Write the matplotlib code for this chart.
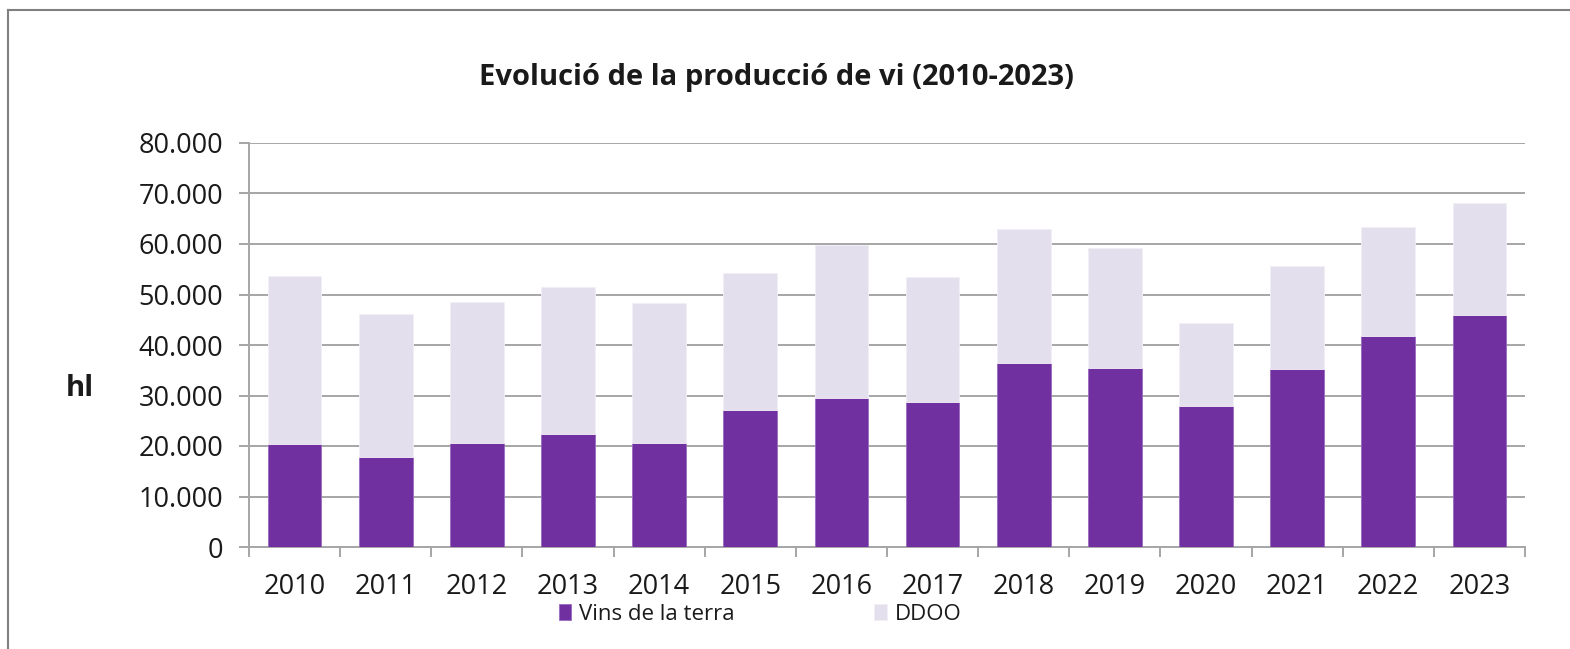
import matplotlib
matplotlib.use("Agg")
import matplotlib.pyplot as plt
from matplotlib.lines import Line2D
from matplotlib.ticker import FuncFormatter, FixedLocator

years = ["2010", "2011", "2012", "2013", "2014", "2015", "2016",
         "2017", "2018", "2019", "2020", "2021", "2022", "2023"]
vins_terra = [20400, 17800, 20600, 22300, 20600, 27100, 29500,
              28700, 36500, 35500, 27900, 35300, 41800, 45900]
totals = [53700, 46200, 48600, 51500, 48400, 54200, 59800,
          53500, 62900, 59300, 44300, 55600, 63300, 68200]
ddoo = [t - v for t, v in zip(totals, vins_terra)]
y_ticks = [0, 10000, 20000, 30000, 40000, 50000, 60000, 70000, 80000]

plt.rcParams['font.family'] = ['Open Sans', 'Noto Sans', 'DejaVu Sans']

W, H = 1570, 649
fig = plt.figure(figsize=(W / 100, H / 100), dpi=100)
fig.patch.set_facecolor('white')

ax = fig.add_axes([249 / W, (H - 547) / H, (1525 - 249) / W, (547 - 143) / H])

purple = '#7030A0'
light = '#E4DFEC'
grid_c = '#A6A6A6'

x = list(range(len(years)))
ax.bar(x, vins_terra, width=0.59, color=purple, edgecolor='#9b6ac0', linewidth=0.6,
       label='Vins de la terra', zorder=3)
ax.bar(x, ddoo, width=0.59, bottom=vins_terra, color=light, edgecolor='#f2eef7',
       linewidth=0.6, label='DDOO', zorder=3)

ax.set_xlim(-0.5, len(years) - 0.5)
ax.set_ylim(0, 80000)
ax.yaxis.set_major_locator(FixedLocator(y_ticks))
ax.yaxis.set_major_formatter(FuncFormatter(lambda v, p: f"{int(v):,}".replace(",", ".")))
ax.grid(axis='y', color=grid_c, linewidth=1.4, zorder=0)
ax.set_axisbelow(True)

for s in ['top', 'right']:
    ax.spines[s].set_visible(False)
for s in ['left', 'bottom']:
    ax.spines[s].set_color(grid_c)
    ax.spines[s].set_linewidth(1.4)

ax.set_xticks(x)
ax.set_xticklabels(years)
ax.set_xticks([i - 0.5 for i in range(len(years) + 1)], minor=True)
ax.tick_params(axis='x', which='major', length=0, pad=19, labelsize=19.5, colors='#1a1a1a')
ax.tick_params(axis='x', which='minor', length=7.5, width=1.4, color=grid_c, direction='out')
ax.tick_params(axis='y', which='major', length=7.5, width=1.4, color=grid_c, pad=11,
               labelsize=19.5, labelcolor='#1a1a1a')

fig.text(776 / W, 1 - 78 / H, 'Evolució de la producció de vi (2010-2023)',
         ha='center', va='center', fontsize=21, fontweight='bold', color='#1a1a1a')
fig.text(80 / W, 1 - 389 / H, 'hl', ha='center', va='center', fontsize=21,
         fontweight='bold', color='#1a1a1a')

leg = fig.legend(loc='center', bbox_to_anchor=(760 / W, 1 - 614 / H), ncol=2,
                 frameon=False, fontsize=16, handlelength=0.55, handleheight=0.75,
                 handletextpad=0.35, columnspacing=6.3, labelcolor='#1a1a1a')

# outer border (top and left visible)
fig.add_artist(Line2D([7.5 / W, 7.5 / W], [0, 1 - 9.5 / H], transform=fig.transFigure,
                      color='#808080', linewidth=1.5))
fig.add_artist(Line2D([7.5 / W, 1], [1 - 9.5 / H, 1 - 9.5 / H], transform=fig.transFigure,
                      color='#808080', linewidth=1.5))

fig.savefig('out.png', dpi=100)
